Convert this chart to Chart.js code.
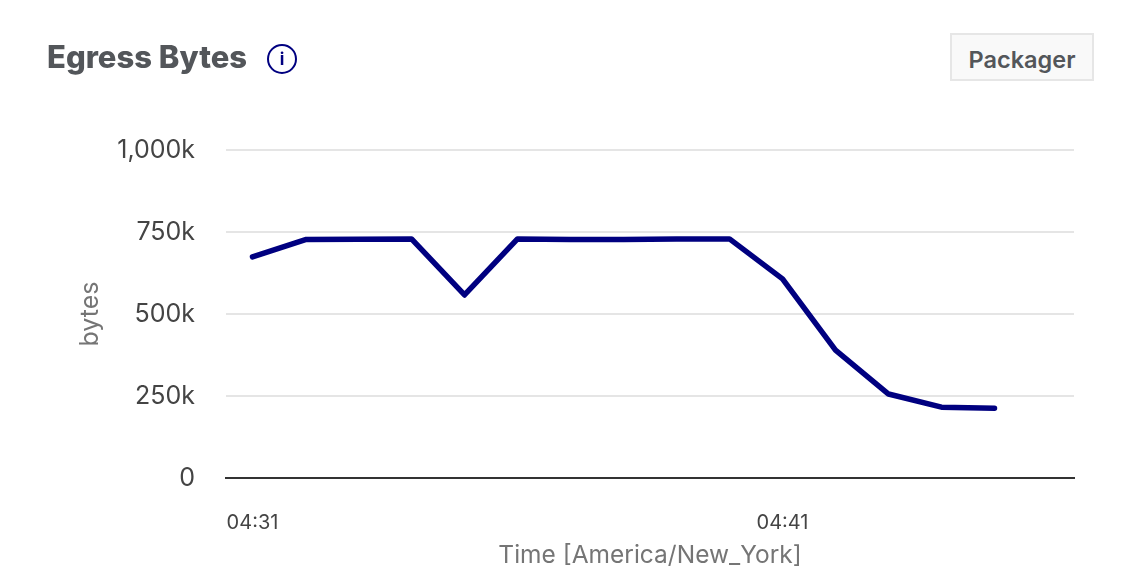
<!DOCTYPE html>
<html>
<head>
<meta charset="utf-8">
<title>Egress Bytes</title>
<script src="https://cdn.jsdelivr.net/npm/chart.js@4"></script>
<style>
  html, body { margin: 0; padding: 0; background: #fff; }
  body { position: relative; width: 1130px; height: 580px; overflow: hidden; font-family: Inter, sans-serif; }
  #chart { position: absolute; left: 0; top: 0; }
  .title { position: absolute; left: 47px; top: 38px; font-size: 31px; line-height: 38px; font-weight: 800; color: #53565a; white-space: nowrap; }
  .info { position: absolute; left: 267px; top: 44px; width: 26px; height: 26px; border: 2.5px solid #000080; border-radius: 50%; color: #000080; font-size: 17px; line-height: 27px; font-weight: 700; text-align: center; }
  .btn { position: absolute; left: 950px; top: 33px; width: 140px; height: 44px; border: 2px solid #e6e6e6; background: #f9f9f9; color: #53565a; font-size: 23.5px; line-height: 50px; font-weight: 600; text-align: center; }
</style>
</head>
<body>
<canvas id="chart" width="1130" height="580"></canvas>
<div class="title">Egress Bytes</div>
<div class="info">i</div>
<div class="btn">Packager</div>
<script>
const timeLabels = ['04:31', '04:32', '04:33', '04:34', '04:35', '04:36', '04:37', '04:38',
  '04:39', '04:40', '04:41', '04:42', '04:43', '04:44', '04:45', '04:46'];
const egressBytes = [674000, 727000, 728000, 729000, 558000, 729000, 727000, 727000,
  729000, 729000, 607000, 390000, 256000, 216000, 213000, null];
const shownTimeTicks = ['04:31', '04:41'];
const yTicks = [0, 250000, 500000, 750000, 1000000];

const plotLeft = 226, plotBottom = 478, padLeft = 75, padBottom = 6;

new Chart(document.getElementById('chart'), {
  type: 'line',
  data: {
    labels: timeLabels,
    datasets: [{
      label: 'Egress Bytes',
      data: egressBytes,
      borderColor: '#000080',
      borderWidth: 5.5,
      borderCapStyle: 'round',
      borderJoinStyle: 'round',
      pointRadius: 0,
      tension: 0,
      fill: false,
    }],
  },
  options: {
    responsive: false,
    animation: false,
    layout: { padding: { top: 150, right: 56, left: padLeft, bottom: padBottom } },
    plugins: { legend: { display: false }, tooltip: { enabled: false } },
    scales: {
      x: {
        type: 'category',
        offset: true,
        grid: { display: false },
        border: { color: '#333', width: 2 },
        ticks: {
          autoSkip: false,
          maxRotation: 0,
          padding: 25,
          color: '#444',
          font: { family: 'Inter', size: 20 },
          callback(value) {
            const label = this.getLabelForValue(value);
            return shownTimeTicks.includes(label) ? label : '';
          },
        },
        title: {
          display: true,
          text: 'Time [America/New_York]',
          color: '#757575',
          font: { family: 'Inter', size: 24.5 },
        },
        afterFit(scale) { scale.height = 580 - plotBottom - padBottom; },
      },
      y: {
        min: 0,
        max: 1000000,
        afterBuildTicks(scale) { scale.ticks = yTicks.map((v) => ({ value: v })); },
        grid: {
          color: (ctx) => (ctx.tick && ctx.tick.value === 0 ? 'rgba(0,0,0,0)' : '#e5e5e5'),
          lineWidth: 2,
          drawTicks: false,
        },
        border: { display: false },
        ticks: {
          padding: 31,
          color: '#444',
          font: { family: 'Inter', size: 25 },
          callback: (v) => (v === 0 ? '0' : (v / 1000).toLocaleString('en-US') + 'k'),
        },
        title: {
          display: true,
          text: 'bytes',
          color: '#757575',
          font: { family: 'Inter', size: 25 },
          padding: { top: 0, bottom: 0 },
        },
        afterFit(scale) { scale.width = plotLeft - padLeft; },
      },
    },
  },
});
</script>
</body>
</html>
